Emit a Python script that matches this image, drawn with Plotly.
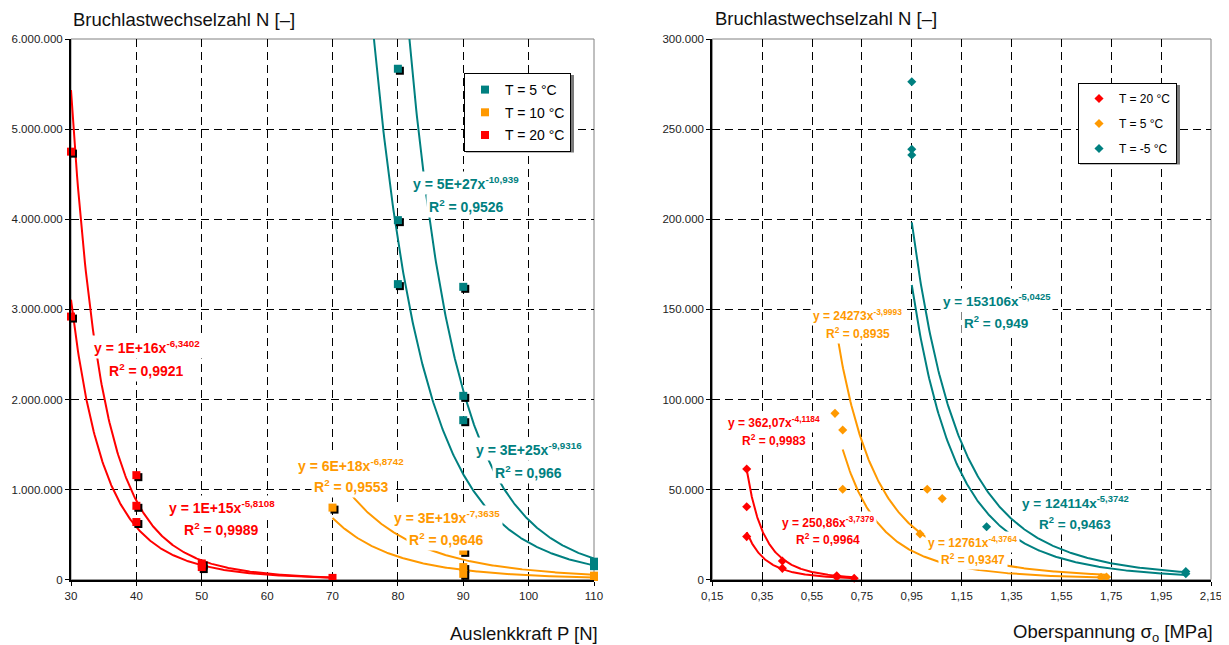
import numpy as np
import plotly.graph_objects as go

# ---------------- data: left chart (Auslenkkraft P [N]) ----------------
p_t5 = [80, 80, 80, 90, 90, 90, 110, 110]
n_t5 = [5670000, 3990000, 3280000, 3250000, 2040000, 1770000, 200000, 150000]
p_t10 = [70, 90, 90, 90, 110, 110]
n_t10 = [800000, 320000, 140000, 65000, 45000, 30000]
p_t20 = [30, 30, 40, 40, 40, 50, 50, 70]
n_t20 = [4750000, 2920000, 1160000, 820000, 640000, 180000, 140000, 20000]

# power-law trendlines left: y = a * x^b
left_tr_coef = [1.26e16, 1.19e15, 6.0e18, 2.64e19, 3.0e25, 5.0e27]
left_tr_exp = [-6.3402, -5.8108, -6.8742, -7.3635, -9.9316, -10.939]
left_tr_xmin = [30, 30, 70, 70, 75, 80]
left_tr_xmax = [70, 70, 110, 110, 110, 110]
left_tr_series = ["T20", "T20", "T10", "T10", "T5", "T5"]
left_eq = ["y = 1E+16x<sup>-6,3402</sup>", "y = 1E+15x<sup>-5,8108</sup>",
           "y = 6E+18x<sup>-6,8742</sup>", "y = 3E+19x<sup>-7,3635</sup>",
           "y = 3E+25x<sup>-9,9316</sup>", "y = 5E+27x<sup>-10,939</sup>"]
left_r2 = ["0,9921", "0,9989", "0,9553", "0,9646", "0,966", "0,9526"]

# ---------------- data: right chart (Oberspannung [MPa]) ----------------
s_t20 = [0.288, 0.288, 0.288, 0.431, 0.431, 0.649, 0.649, 0.719]
n2_t20 = [61400, 40500, 23900, 10400, 6300, 2200, 1500, 800]
s_t5 = [0.642, 0.673, 0.673, 0.983, 1.012, 1.072, 1.709, 1.731]
n2_t5 = [92300, 83100, 50200, 25400, 50200, 45000, 1300, 1500]
s_tm5 = [0.95, 0.95, 0.95, 1.25, 2.049, 2.049]
n2_tm5 = [276300, 238800, 235600, 29400, 4500, 3300]

right_tr_coef = [362.07, 250.86, 24273, 12761, 153106, 124114]
right_tr_exp = [-4.1184, -3.7379, -3.9993, -4.3764, -5.0425, -5.3742]
right_tr_xmin = [0.288, 0.288, 0.642, 0.673, 0.95, 0.95]
right_tr_xmax = [0.719, 0.719, 1.731, 1.731, 2.049, 2.049]
right_tr_series = ["T20", "T20", "T5", "T5", "Tm5", "Tm5"]
right_eq = ["y = 362,07x<sup>-4,1184</sup>", "y = 250,86x<sup>-3,7379</sup>",
            "y = 24273x<sup>-3,9993</sup>", "y = 12761x<sup>-4,3764</sup>",
            "y = 153106x<sup>-5,0425</sup>", "y = 124114x<sup>-5,3742</sup>"]
right_r2 = ["0,9983", "0,9964", "0,8935", "0,9347", "0,949", "0,9463"]

# ---------------- styling ----------------
RED, ORANGE, TEAL = "#FF0000", "#FF9900", "#008080"
left_colors = {"T20": RED, "T10": ORANGE, "T5": TEAL}
right_colors = {"T20": RED, "T5": ORANGE, "Tm5": TEAL}
FONT = "Liberation Sans, Arial, sans-serif"
W, H = 1229, 645
OFF = 8  # default page margin of the html body


def px(v):
    return (v - OFF) / W


def py(v):
    return 1 - (v - OFF) / H


LX0, LX1 = 71, 594
RX0, RX1 = 712.3, 1211
YT, YB = 39, 579.7
ydom = [py(YB), py(YT)]

fig = go.Figure()

# trendlines (base axes)
for a, b, x0, x1, s in zip(left_tr_coef, left_tr_exp, left_tr_xmin, left_tr_xmax, left_tr_series):
    xs = np.linspace(x0, x1, 300)
    fig.add_trace(go.Scatter(x=xs, y=a * xs ** b, mode="lines", showlegend=False, hoverinfo="skip",
                             line=dict(color=left_colors[s], width=2), xaxis="x", yaxis="y"))
for a, b, x0, x1, s in zip(right_tr_coef, right_tr_exp, right_tr_xmin, right_tr_xmax, right_tr_series):
    xs = np.linspace(x0, x1, 300)
    fig.add_trace(go.Scatter(x=xs, y=a * xs ** b, mode="lines", showlegend=False, hoverinfo="skip",
                             line=dict(color=right_colors[s], width=2), xaxis="x2", yaxis="y2"))

# left marker shadows (overlay axes shifted by 2px)
left_series = [("T = 5 °C", p_t5, n_t5, TEAL), ("T = 10 °C", p_t10, n_t10, ORANGE),
               ("T = 20 °C", p_t20, n_t20, RED)]
for name, xs, ys, c in left_series:
    fig.add_trace(go.Scatter(x=xs, y=ys, mode="markers", showlegend=False, hoverinfo="skip",
                             marker=dict(symbol="square", size=8, color="black"),
                             cliponaxis=False, xaxis="x3", yaxis="y3"))
for i, (name, xs, ys, c) in enumerate(left_series):
    fig.add_trace(go.Scatter(x=xs, y=ys, mode="markers", name=name, legend="legend",
                             legendgroup="L%d" % i,
                             marker=dict(symbol="square", size=8, color=c),
                             cliponaxis=False, xaxis="x4", yaxis="y4"))

right_series = [("T = 20 °C", s_t20, n2_t20, RED), ("T = 5 °C", s_t5, n2_t5, ORANGE),
                ("T = -5 °C", s_tm5, n2_tm5, TEAL)]
for i, (name, xs, ys, c) in enumerate(right_series):
    fig.add_trace(go.Scatter(x=xs, y=ys, mode="markers", name=name, legend="legend2",
                             legendgroup="R%d" % i,
                             marker=dict(symbol="diamond", size=7, color=c),
                             cliponaxis=False, xaxis="x2", yaxis="y2"))

tickfont = dict(family=FONT, size=11.5, color="#222")
grid = dict(showgrid=True, gridcolor="black", gridwidth=1, griddash="8px,5px",
            showline=True, linecolor="black", linewidth=2, zeroline=False, automargin=False,
            ticks="outside", ticklen=4, tickcolor="black", tickfont=tickfont)
hidden = dict(visible=False, automargin=False, showgrid=False, zeroline=False)

dx = 2 * 80 / (LX1 - LX0)
dy = 2 * 6e6 / (YB - YT)
fig.update_layout(
    width=W, height=H, margin=dict(l=0, r=0, t=0, b=0, pad=0, autoexpand=False),
    paper_bgcolor="white", plot_bgcolor="white", separators=",.",
    xaxis=dict(domain=[px(LX0), px(LX1)], range=[30, 110], dtick=10, anchor="y", **grid),
    yaxis=dict(domain=ydom, range=[0, 6e6], dtick=1e6, tickformat=",d", anchor="x", **grid),
    xaxis2=dict(domain=[px(RX0), px(RX1)], range=[0.15, 2.15], tick0=0.15, dtick=0.2,
                tickformat=".2f", anchor="y2", **grid),
    yaxis2=dict(domain=ydom, range=[0, 300000], dtick=50000, tickformat=",d", anchor="x2", **grid),
    xaxis3=dict(overlaying="x", range=[30 - dx, 110 - dx], anchor="y3", **hidden),
    yaxis3=dict(overlaying="y", range=[dy, 6e6 + dy], anchor="x3", **hidden),
    xaxis4=dict(overlaying="x", range=[30, 110], anchor="y4", **hidden),
    yaxis4=dict(overlaying="y", range=[0, 6e6], anchor="x4", **hidden),
    legend=dict(x=px(571), y=py(73), xanchor="right", yanchor="top",
                bgcolor="white", bordercolor="black", borderwidth=1,
                font=dict(family=FONT, size=14, color="black"), tracegroupgap=1.5),
    legend2=dict(x=px(1177), y=py(83), xanchor="right", yanchor="top",
                 bgcolor="white", bordercolor="black", borderwidth=1,
                 font=dict(family=FONT, size=12, color="black"), tracegroupgap=6),
)

# plot-area frames (gray top/right border)
for x0, x1 in [(LX0, LX1), (RX0, RX1)]:
    fig.add_shape(type="rect", xref="paper", yref="paper", x0=px(x0), x1=px(x1),
                  y0=ydom[0], y1=ydom[1], line=dict(color="#808080", width=1), layer="below")

# legend drop shadows
for (x0, x1, y0, y1) in [(466, 574, 75, 152.5), (1080, 1180, 85, 164.5)]:
    fig.add_shape(type="rect", xref="paper", yref="paper", x0=px(x0), x1=px(x1),
                  y0=py(y1), y1=py(y0), line=dict(width=0), fillcolor="#7a7a7a", layer="above")

# equation labels (data coordinates)
left_pos = [(41.6, 2.586e6, 2.327e6), (53.05, 0.810e6, 0.563e6), (72.85, 1.273e6, 1.043e6),
            (87.45, 0.699e6, 0.452e6), (100.0, 1.450e6, 1.198e6), (90.42, 4.399e6, 4.147e6)]
for (x, y1, y2), eq, r2, s in zip(left_pos, left_eq, left_r2, left_tr_series):
    c = left_colors[s]
    for txt, yy in [(eq, y1), ("R<sup>2</sup> = " + r2, y2)]:
        fig.add_annotation(x=x, y=yy, xref="x", yref="y", text="<b>%s</b>" % txt, showarrow=False,
                           font=dict(family=FONT, size=14, color=c), bgcolor="white", borderpad=2)

right_pos = [(0.396, 87.7e3, 77.5e3), (0.615, 32.2e3, 22.6e3), (0.733, 146.9e3, 136.7e3),
             (1.195, 20.7e3, 11.3e3), (1.288, 155.2e3, 143.1e3), (1.605, 43.3e3, 31.3e3)]
right_sizes = [12, 12, 12, 12, 13.5, 13.5]
for (x, y1, y2), eq, r2, s, fs in zip(right_pos, right_eq, right_r2, right_tr_series, right_sizes):
    c = right_colors[s]
    for txt, yy in [(eq, y1), ("R<sup>2</sup> = " + r2, y2)]:
        fig.add_annotation(x=x, y=yy, xref="x2", yref="y2", text="<b>%s</b>" % txt, showarrow=False,
                           font=dict(family=FONT, size=fs, color=c), bgcolor="white", borderpad=2)

# axis titles
tfont = dict(family=FONT, size=18.5, color="#111")
fig.add_annotation(x=px(LX0), y=py(20), xref="paper", yref="paper", xanchor="left", yanchor="middle",
                   text="Bruchlastwechselzahl N [–]", showarrow=False, font=tfont)
fig.add_annotation(x=px(713), y=py(19), xref="paper", yref="paper", xanchor="left", yanchor="middle",
                   text="Bruchlastwechselzahl N [–]", showarrow=False, font=tfont)
fig.add_annotation(x=px(600), y=py(633), xref="paper", yref="paper", xanchor="right", yanchor="middle",
                   text="Auslenkkraft P [N]", showarrow=False, font=tfont)
fig.add_annotation(x=px(1215), y=py(633), xref="paper", yref="paper", xanchor="right", yanchor="middle",
                   text="Oberspannung σ<sub>o</sub> [MPa]", showarrow=False, font=tfont)

fig.write_html("out.html")
